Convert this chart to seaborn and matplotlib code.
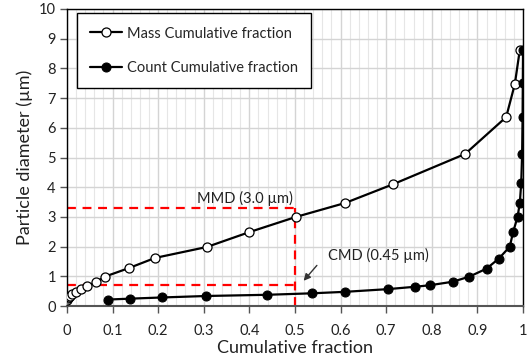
import numpy as np
import pandas as pd
import seaborn as sns
import matplotlib.pyplot as plt
from matplotlib.ticker import MultipleLocator, FormatStrFormatter

# valores
mass_frac = [0.001, 0.003, 0.005, 0.007, 0.012, 0.02, 0.03, 0.045, 0.064, 0.083,
             0.136, 0.193, 0.307, 0.40, 0.502, 0.61, 0.715, 0.873, 0.963, 0.982, 0.993]
mass_diam = [0.22, 0.26, 0.29, 0.33, 0.40, 0.48, 0.58, 0.68, 0.81, 0.99,
             1.28, 1.62, 1.99, 2.49, 3.0, 3.47, 4.1, 5.12, 6.36, 7.47, 8.63]

count_frac = [0.09, 0.138, 0.208, 0.306, 0.438, 0.537, 0.61, 0.703, 0.763, 0.795,
              0.846, 0.882, 0.92, 0.947, 0.971, 0.978, 0.988, 0.993, 0.996, 0.998,
              0.999, 0.9995, 1.0]
count_diam = [0.22, 0.25, 0.29, 0.34, 0.38, 0.43, 0.48, 0.57, 0.65, 0.70,
              0.82, 0.99, 1.26, 1.6, 2.0, 2.48, 3.0, 3.48, 4.14, 5.12,
              6.37, 7.5, 8.63]

mmd = [0.5, 3.3]
cmd = [0.5, 0.7]

mass = pd.DataFrame({'frac': mass_frac, 'diam': mass_diam})
count = pd.DataFrame({'frac': count_frac, 'diam': count_diam})

sns.set_style('ticks')
plt.rcParams['font.family'] = ['Lato', 'DejaVu Sans']

fig = plt.figure(figsize=(5.31, 3.58), dpi=100)
ax = fig.add_axes([0.126, 0.145, 0.859, 0.83])

# linhas vermelhas tracejadas MMD / CMD
ax.plot([0, mmd[0]], [mmd[1], mmd[1]], '--', color='#ff0000', lw=1.6, dashes=(4, 3), zorder=2)
ax.plot([0, cmd[0]], [cmd[1], cmd[1]], '--', color='#ff0000', lw=1.6, dashes=(4, 3), zorder=2)
ax.plot([mmd[0], mmd[0]], [0, mmd[1]], '--', color='#ff0000', lw=1.6, dashes=(4, 3), zorder=2)

sns.lineplot(data=mass, x='frac', y='diam', sort=False, ax=ax, color='black', lw=1.6,
             marker='o', markersize=6.5, markerfacecolor='white', markeredgecolor='black',
             markeredgewidth=0.9, label='Mass Cumulative fraction', zorder=4)
sns.lineplot(data=count, x='frac', y='diam', sort=False, ax=ax, color='black', lw=1.6,
             marker='o', markersize=6.5, markerfacecolor='black', markeredgecolor='black',
             label='Count Cumulative fraction', zorder=4)

ax.text(0.495, 3.62, 'MMD (3.0 µm)', ha='right', va='center', fontsize=10.5, color='#222222')
ax.text(0.572, 1.72, 'CMD (0.45 µm)', ha='left', va='center', fontsize=10.5, color='#222222')
ax.annotate('', xy=(0.515, 0.78), xytext=(0.552, 1.44),
            arrowprops=dict(arrowstyle='-|>', color='#333333', lw=1.0, mutation_scale=10))

ax.set_xlim(0, 1)
ax.set_ylim(0, 10)
ax.xaxis.set_major_locator(MultipleLocator(0.1))
ax.xaxis.set_minor_locator(MultipleLocator(0.02))
ax.xaxis.set_major_formatter(FormatStrFormatter('%g'))
ax.yaxis.set_major_locator(MultipleLocator(1))
ax.grid(which='major', color='#d4d4d4', lw=1.0)
ax.grid(which='minor', axis='x', color='#e6e6e6', lw=0.8)
ax.set_axisbelow(True)
ax.tick_params(axis='both', which='major', labelsize=10.5, direction='out', length=5,
               width=1, color='#555555', labelcolor='#222222', pad=8)
ax.tick_params(axis='x', which='minor', length=0)
ax.tick_params(axis='y', pad=3)
for s in ax.spines.values():
    s.set_color('black')
    s.set_linewidth(1.0)
ax.spines['bottom'].set_color('#555555')
ax.spines['bottom'].set_linewidth(1.5)

ax.set_xlabel('Cumulative fraction', fontsize=13, color='#222222', labelpad=1)
ax.set_ylabel('Particle diameter (µm)', fontsize=13, color='#222222', labelpad=4)

leg = ax.legend(loc='upper left', bbox_to_anchor=(0.022, 0.985), frameon=True, fancybox=False,
                edgecolor='black', framealpha=1, fontsize=10.5, labelspacing=1.4,
                handlelength=2.2, handletextpad=0.3, borderpad=0.9, borderaxespad=0)
leg.get_frame().set_linewidth(1.0)

fig.savefig('out.png', dpi=100)
